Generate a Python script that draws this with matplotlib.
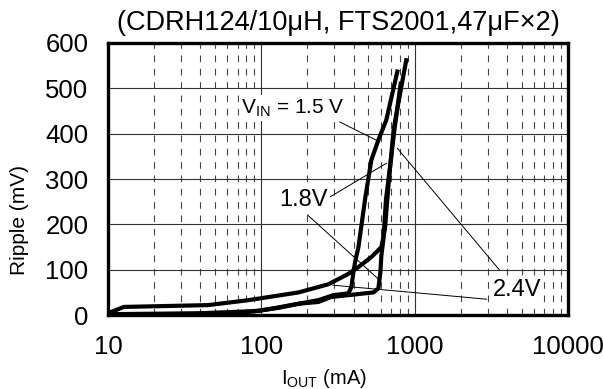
import matplotlib.pyplot as plt
import numpy as np
from matplotlib.ticker import FixedLocator, NullFormatter

plt.rcParams['font.family'] = ['Liberation Sans', 'DejaVu Sans']
plt.rcParams['mathtext.fontset'] = 'custom'
plt.rcParams['mathtext.rm'] = 'Liberation Sans'

# ripple curves: I_OUT (mA), ripple (mV)
i_a = [10, 39, 96, 175, 236, 295, 370, 387, 398, 411, 430, 477, 522, 580, 653, 771]
r_a = [2, 4, 9, 25, 33, 44, 48, 62, 93, 121, 150, 260, 342, 386, 430, 537]

i_b = [10, 12.7, 45, 83, 175, 274, 370, 430, 522, 607, 640, 680, 730, 790, 881]
r_b = [4, 18, 22, 33, 50, 68, 91, 106, 128, 150, 190, 300, 410, 475, 562]

i_c = [10, 71, 130, 175, 236, 286, 370, 538, 580, 597, 607, 625, 650, 690, 740, 810]
r_c = [0, 4, 16, 25, 29, 40, 44, 50, 59, 93, 132, 166, 255, 325, 412, 510]

x_ticks = [10, 100, 1000, 10000]
y_ticks = [0, 100, 200, 300, 400, 500, 600]

fig = plt.figure(figsize=(6.03, 3.89), dpi=100)
ax = fig.add_axes([0.179, 0.19, 0.763, 0.6995])

for i, r in [(i_a, r_a), (i_b, r_b), (i_c, r_c)]:
    ax.plot(i, r, color='black', lw=3.0, solid_joinstyle='round', zorder=3)

ax.set_xscale('log')
ax.set_xlim(10, 10000)
ax.set_ylim(0, 600)
ax.xaxis.set_major_locator(FixedLocator(x_ticks))
ax.xaxis.set_minor_locator(FixedLocator([m * d for d in [10, 100, 1000] for m in range(2, 10)]))
ax.xaxis.set_minor_formatter(NullFormatter())
ax.set_xticks(x_ticks, [str(v) for v in x_ticks])
ax.set_yticks(y_ticks)
ax.grid(which='major', color='#333333', lw=0.8)
ax.grid(which='minor', axis='x', color='#444444', lw=0.8, linestyle=(0, (6, 6)))
ax.tick_params(which='both', length=0)
ax.tick_params(axis='x', labelsize=18.5, pad=14)
ax.tick_params(axis='y', labelsize=18.5, pad=14)
for s in ax.spines.values():
    s.set_linewidth(2.4)

ax.set_title('(CDRH124/10\u03bcH, FTS2001,47\u03bcF\u00d72)', fontsize=19.5, pad=9)
ax.set_ylabel('Ripple (mV)', fontsize=15)
ax.yaxis.set_label_coords(-0.172, 0.35)
ax.set_xlabel(r'I$_{\mathrm{OUT}}$ (mA)', fontsize=14.5)
ax.xaxis.set_label_coords(0.47, -0.19)

box = dict(facecolor='white', edgecolor='none', pad=1.5)
line = dict(arrowstyle='-', color='black', lw=0.7, shrinkA=0, shrinkB=0)
ax.text(74, 457, r'V$_{\mathrm{IN}}$ = 1.5 V', fontsize=15, va='center', ha='left', bbox=box, zorder=4)
ax.annotate('', xy=(591, 382), xytext=(324, 426), arrowprops=line)
ax.text(131, 254, '1.8V', fontsize=17, va='center', ha='left', bbox=box, zorder=4)
ax.annotate('', xy=(656, 335), xytext=(279, 260), arrowprops=line)
ax.annotate('', xy=(591, 77), xytext=(200, 221), arrowprops=line)
ax.text(3230, 55, '2.4V', fontsize=17, va='center', ha='left', bbox=box, zorder=4)
ax.annotate('', xy=(770, 368), xytext=(3580, 99), arrowprops=line)
ax.annotate('', xy=(292, 66), xytext=(2950, 35), arrowprops=line)

fig.savefig('out.png', dpi=100)
